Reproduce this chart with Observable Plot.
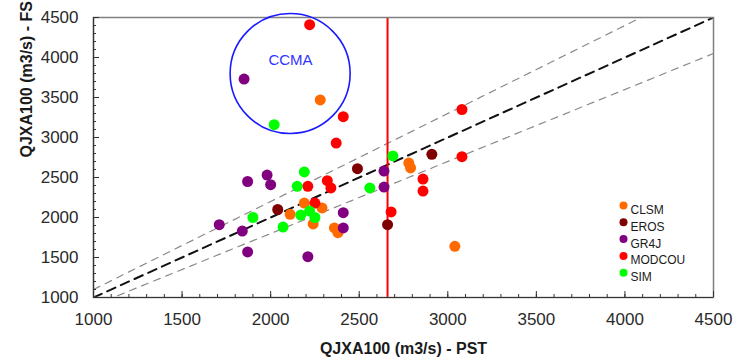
<!DOCTYPE html>
<html><head><meta charset="utf-8">
<script src="https://cdn.jsdelivr.net/npm/d3@7"></script>
<script src="https://cdn.jsdelivr.net/npm/@observablehq/plot@0.6"></script>
<style>body{margin:0;background:#fff;font-family:"Liberation Sans",Arial,sans-serif;}</style>
</head><body><div id="chart"></div>
<script>
const models = ["CLSM", "EROS", "GR4J", "MODCOU", "SIM"];
const colors = ["#FF6A00", "#7F0000", "#800080", "#FF0000", "#00FF00"];

const clsmPST = [2280, 2190, 2110, 2290, 2240, 2360, 2380, 2780, 2790, 3040];
const clsmFS  = [3470, 2180, 2040, 2120, 1920, 1870, 1810, 2680, 2620, 1640];
const erosPST = [2040, 2490, 2910, 2660];
const erosFS  = [2100, 2610, 2790, 1910];
const gr4jPST = [1850, 1870, 1980, 2000, 1710, 1840, 1870, 2210, 2640, 2640, 2410, 2410];
const gr4jFS  = [3730, 2450, 2530, 2410, 1910, 1830, 1570, 1510, 2580, 2380, 2060, 1870];
const modcouPST = [2220, 2410, 2370, 2320, 2340, 2680, 2860, 2860, 3080, 3080, 2210, 2250];
const modcouFS  = [4410, 3260, 2930, 2460, 2370, 2070, 2480, 2330, 2760, 3350, 2390, 2180];
const simPST = [2020, 2190, 2150, 1900, 2070, 2170, 2220, 2250, 2690, 2560];
const simFS  = [3160, 2570, 2390, 2000, 1880, 2030, 2080, 2000, 2770, 2370];

const xTicks = [1000, 1500, 2000, 2500, 3000, 3500, 4000, 4500];
const yTicks = [1000, 1500, 2000, 2500, 3000, 3500, 4000, 4500];
const refX = [1000, 4500];
const refRatios = [0.9, 1.0, 1.1];
const pstThreshold = [2660];
const ccmaCenter = {x: 2110, y: 3800};
const ccmaLabel = {x: 2112, y: 3970, text: "CCMA"};

const series = [
  [clsmPST, clsmFS], [erosPST, erosFS], [gr4jPST, gr4jFS], [modcouPST, modcouFS], [simPST, simFS]
];
const points = [];
series.forEach(([xs, ys], i) => xs.forEach((x, j) => points.push({model: models[i], pst: x, fs: ys[j]})));

const refLines = refRatios.map(k => refX.map(x => ({x, y: x * k, k})));

const W = 733, H = 362, mL = 93, mR = 20, mT = 17, mB = 65;
const innerW = W - mL - mR, innerH = H - mT - mB;
const minor = d3.range(1000, 4501, 100);

const legendMarks = models.flatMap((m, i) => [
  Plot.dot([m], {frameAnchor: "top-left", dx: 530, dy: 188 + i * 16.8, r: 4, fill: colors[i]}),
  Plot.text([m], {frameAnchor: "top-left", dx: 537, dy: 188 + i * 16.8, text: d => d, textAnchor: "start", fontSize: 12, fill: "#1a1a1a"})
]);

const chart = Plot.plot({
  width: W, height: H,
  marginLeft: mL, marginRight: mR, marginTop: mT, marginBottom: mB,
  style: {fontFamily: "'Liberation Sans', Arial, sans-serif", background: "#fff"},
  x: {domain: [1000, 4500]},
  y: {domain: [1000, 4500]},
  color: {domain: models, range: colors},
  marks: [
    Plot.line(refLines[0], {x: "x", y: "y", stroke: "#8a8a8a", strokeWidth: 1.2, strokeDasharray: "7,6", clip: true}),
    Plot.line(refLines[2], {x: "x", y: "y", stroke: "#8a8a8a", strokeWidth: 1.2, strokeDasharray: "7,6", clip: true}),
    Plot.line(refLines[1], {x: "x", y: "y", stroke: "#111", strokeWidth: 2, strokeDasharray: "9,6", clip: true}),
    Plot.ruleX(pstThreshold, {stroke: "#FF0000", strokeWidth: 2}),
    Plot.frame({stroke: "#808080", strokeWidth: 1.5}),
    Plot.ruleY([1000], {stroke: "#333", strokeWidth: 1.2}),
    Plot.ruleX([1000], {stroke: "#333", strokeWidth: 1.2}),
    Plot.tickX(minor, {x: d => d, insetTop: innerH - 3, stroke: "#333"}),
    Plot.tickX(xTicks, {x: d => d, insetTop: innerH - 6, stroke: "#333"}),
    Plot.tickY(minor, {y: d => d, insetRight: innerW - 3, stroke: "#333"}),
    Plot.tickY(yTicks, {y: d => d, insetRight: innerW - 6, stroke: "#333"}),
    Plot.axisX({ticks: xTicks, tickSize: 0, tickPadding: 15, fontSize: 17, color: "#2a2a2a", label: null, tickFormat: d => String(d)}),
    Plot.axisY({ticks: yTicks, tickSize: 0, tickPadding: 15, fontSize: 17, color: "#2a2a2a", label: null, tickFormat: d => String(d)}),
    Plot.text(["QJXA100 (m3/s) - PST"], {frameAnchor: "bottom", dy: 56, text: d => d, fontSize: 16, fontWeight: "bold", fill: "#1a1a1a"}),
    Plot.text(["QJXA100 (m3/s) - FS"], {frameAnchor: "left", dx: -67, rotate: -90, text: d => d, fontSize: 16, fontWeight: "bold", fill: "#1a1a1a"}),
    Plot.dot(points, {x: "pst", y: "fs", fill: "model", r: 5.5}),
    Plot.dot([ccmaCenter], {x: "x", y: "y", r: 60, stroke: "#1a1aff", strokeWidth: 1.6, fill: "none"}),
    Plot.text([ccmaLabel], {x: "x", y: "y", text: "text", fill: "#3333ff", fontSize: 15}),
    ...legendMarks
  ]
});
document.getElementById("chart").appendChild(chart);
</script>
</body></html>
